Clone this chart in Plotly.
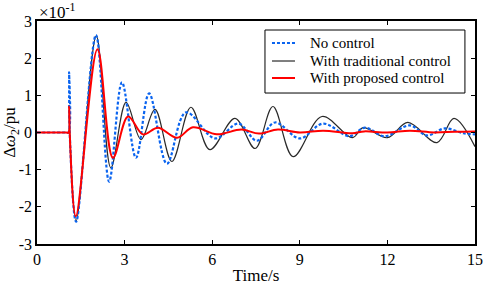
import plotly.graph_objects as go

# ---- data (values in units of 1e-1 pu) ----
t_no = [0, 1.0, 1.08, 1.1, 1.12, 1.34, 2.02, 2.47, 2.91, 3.39, 3.84, 4.45, 5.1, 6.1, 6.9, 7.53,
        8.15, 9.0, 9.8, 10.7, 11.23, 11.9, 12.77, 13.35, 13.97, 14.6, 15.0]
v_no = [0, 0, 0, 1.62, 0, -2.4, 2.62, -1.32, 1.35, -0.68, 1.05, -0.84, 0.54, -0.16, 0.24, -0.22,
        0.27, -0.16, 0.24, -0.1, 0.13, -0.1, 0.19, -0.08, 0.11, -0.02, -0.05]

t_trad = [0, 1.0, 1.08, 1.1, 1.12, 1.34, 2.03, 2.53, 3.05, 3.56, 4.04, 4.62, 5.27, 5.92, 6.78, 7.47,
          8.08, 8.77, 9.76, 10.8, 11.17, 12.0, 12.7, 13.7, 14.28, 15.0]
v_trad = [0, 0, 0, 0.6, 0, -2.38, 2.6, -0.95, 0.81, -0.19, 0.62, -0.78, 0.68, -0.46, 0.38, -0.43,
          0.70, -0.65, 0.43, -0.14, 0.13, -0.14, 0.27, -0.27, 0.38, -0.38]

t_prop = [0, 1.0, 1.08, 1.1, 1.12, 1.33, 2.07, 2.6, 3.12, 3.63, 4.14, 4.8, 5.34, 6.16, 7.0, 7.6,
          8.25, 9.0, 9.8, 10.8, 11.2, 12.0, 12.77, 13.6, 14.3, 15.0]
v_prop = [0, 0, 0, 0.7, 0, -2.25, 2.24, -0.68, 0.43, -0.05, 0.13, -0.14, 0.14, -0.05, 0.08, -0.03,
          0.08, 0.0, 0.05, -0.02, 0.03, 0.0, 0.05, 0.0, 0.02, 0.03]

x_ticks = [0, 3, 6, 9, 12, 15]
y_ticks = [3, 2, 1, 0, -1, -2, -3]
y_tick_labels = ["3", "2", "1", "0", "-1", "-2", "-3"]

series_names = ["No control", "With traditional control", "With proposed control"]

FONT = "Liberation Serif, Times New Roman, serif"
BLUE, BLACK, RED = "#0a64f0", "#2a2a2a", "#ff0000"
BLUE_DASH = "3px,2px"

fig = go.Figure()
fig.add_trace(go.Scatter(x=t_trad, y=v_trad, mode="lines", name=series_names[1], showlegend=False,
                         line=dict(color=BLACK, width=1.2, shape="spline", smoothing=1)))
fig.add_trace(go.Scatter(x=t_no, y=v_no, mode="lines", name=series_names[0], showlegend=False,
                         line=dict(color=BLUE, width=2.2, dash=BLUE_DASH, shape="spline", smoothing=1)))
fig.add_trace(go.Scatter(x=t_prop, y=v_prop, mode="lines", name=series_names[2], showlegend=False,
                         line=dict(color=RED, width=2, shape="spline", smoothing=1)))

axis_common = dict(showline=True, linecolor="black", linewidth=1.5, mirror="allticks",
                   ticks="inside", ticklen=4, tickwidth=1.2, tickcolor="black",
                   showgrid=False, zeroline=False, automargin=False,
                   tickfont=dict(family=FONT, size=16, color="black"))

fig.update_xaxes(range=[0, 15], tickvals=x_ticks,
                 title=dict(text="Time/s", font=dict(family=FONT, size=17, color="black"), standoff=2),
                 **axis_common)
fig.update_yaxes(range=[-3, 3], tickvals=y_ticks, ticktext=y_tick_labels,
                 title=dict(text="Δ<i>ω</i><sub>2</sub>/pu", font=dict(family=FONT, size=17, color="black"), standoff=2),
                 **axis_common)

fig.add_annotation(text="×10<sup>-1</sup>", xref="paper", yref="paper", x=0.0, y=1.0,
                   xanchor="left", yanchor="bottom", showarrow=False, yshift=-3,
                   font=dict(family=FONT, size=17, color="black"))

# ---- legend box (drawn in paper coordinates, compact like the original) ----
LG_X0, LG_X1, LG_Y0, LG_Y1 = 0.5205, 0.977, 0.677, 0.9596
ROW_Y = [0.9013, 0.8206, 0.7444]
SAMPLE_X0, SAMPLE_X1, TEXT_X = 0.5365, 0.589, 0.6187
fig.add_shape(type="rect", xref="paper", yref="paper", x0=LG_X0, x1=LG_X1, y0=LG_Y0, y1=LG_Y1,
              line=dict(color="black", width=1), fillcolor="white", layer="above")
styles = [dict(color=BLUE, width=2.2, dash=BLUE_DASH), dict(color=BLACK, width=1.2), dict(color=RED, width=2)]
for name, ry, st in zip(series_names, ROW_Y, styles):
    fig.add_shape(type="line", xref="paper", yref="paper", x0=SAMPLE_X0, x1=SAMPLE_X1, y0=ry, y1=ry,
                  line=st, layer="above")
    fig.add_annotation(text=name, xref="paper", yref="paper", x=TEXT_X, y=ry, xanchor="left",
                       yanchor="middle", showarrow=False, font=dict(family=FONT, size=15, color="black"))

fig.update_layout(
    width=484, height=288,
    margin=dict(l=37, r=9, t=21, b=44),
    plot_bgcolor="white", paper_bgcolor="white",
    showlegend=False,
)

fig.write_html("out.html", config={"displayModeBar": False},
               post_script="document.body.style.margin='0';")
